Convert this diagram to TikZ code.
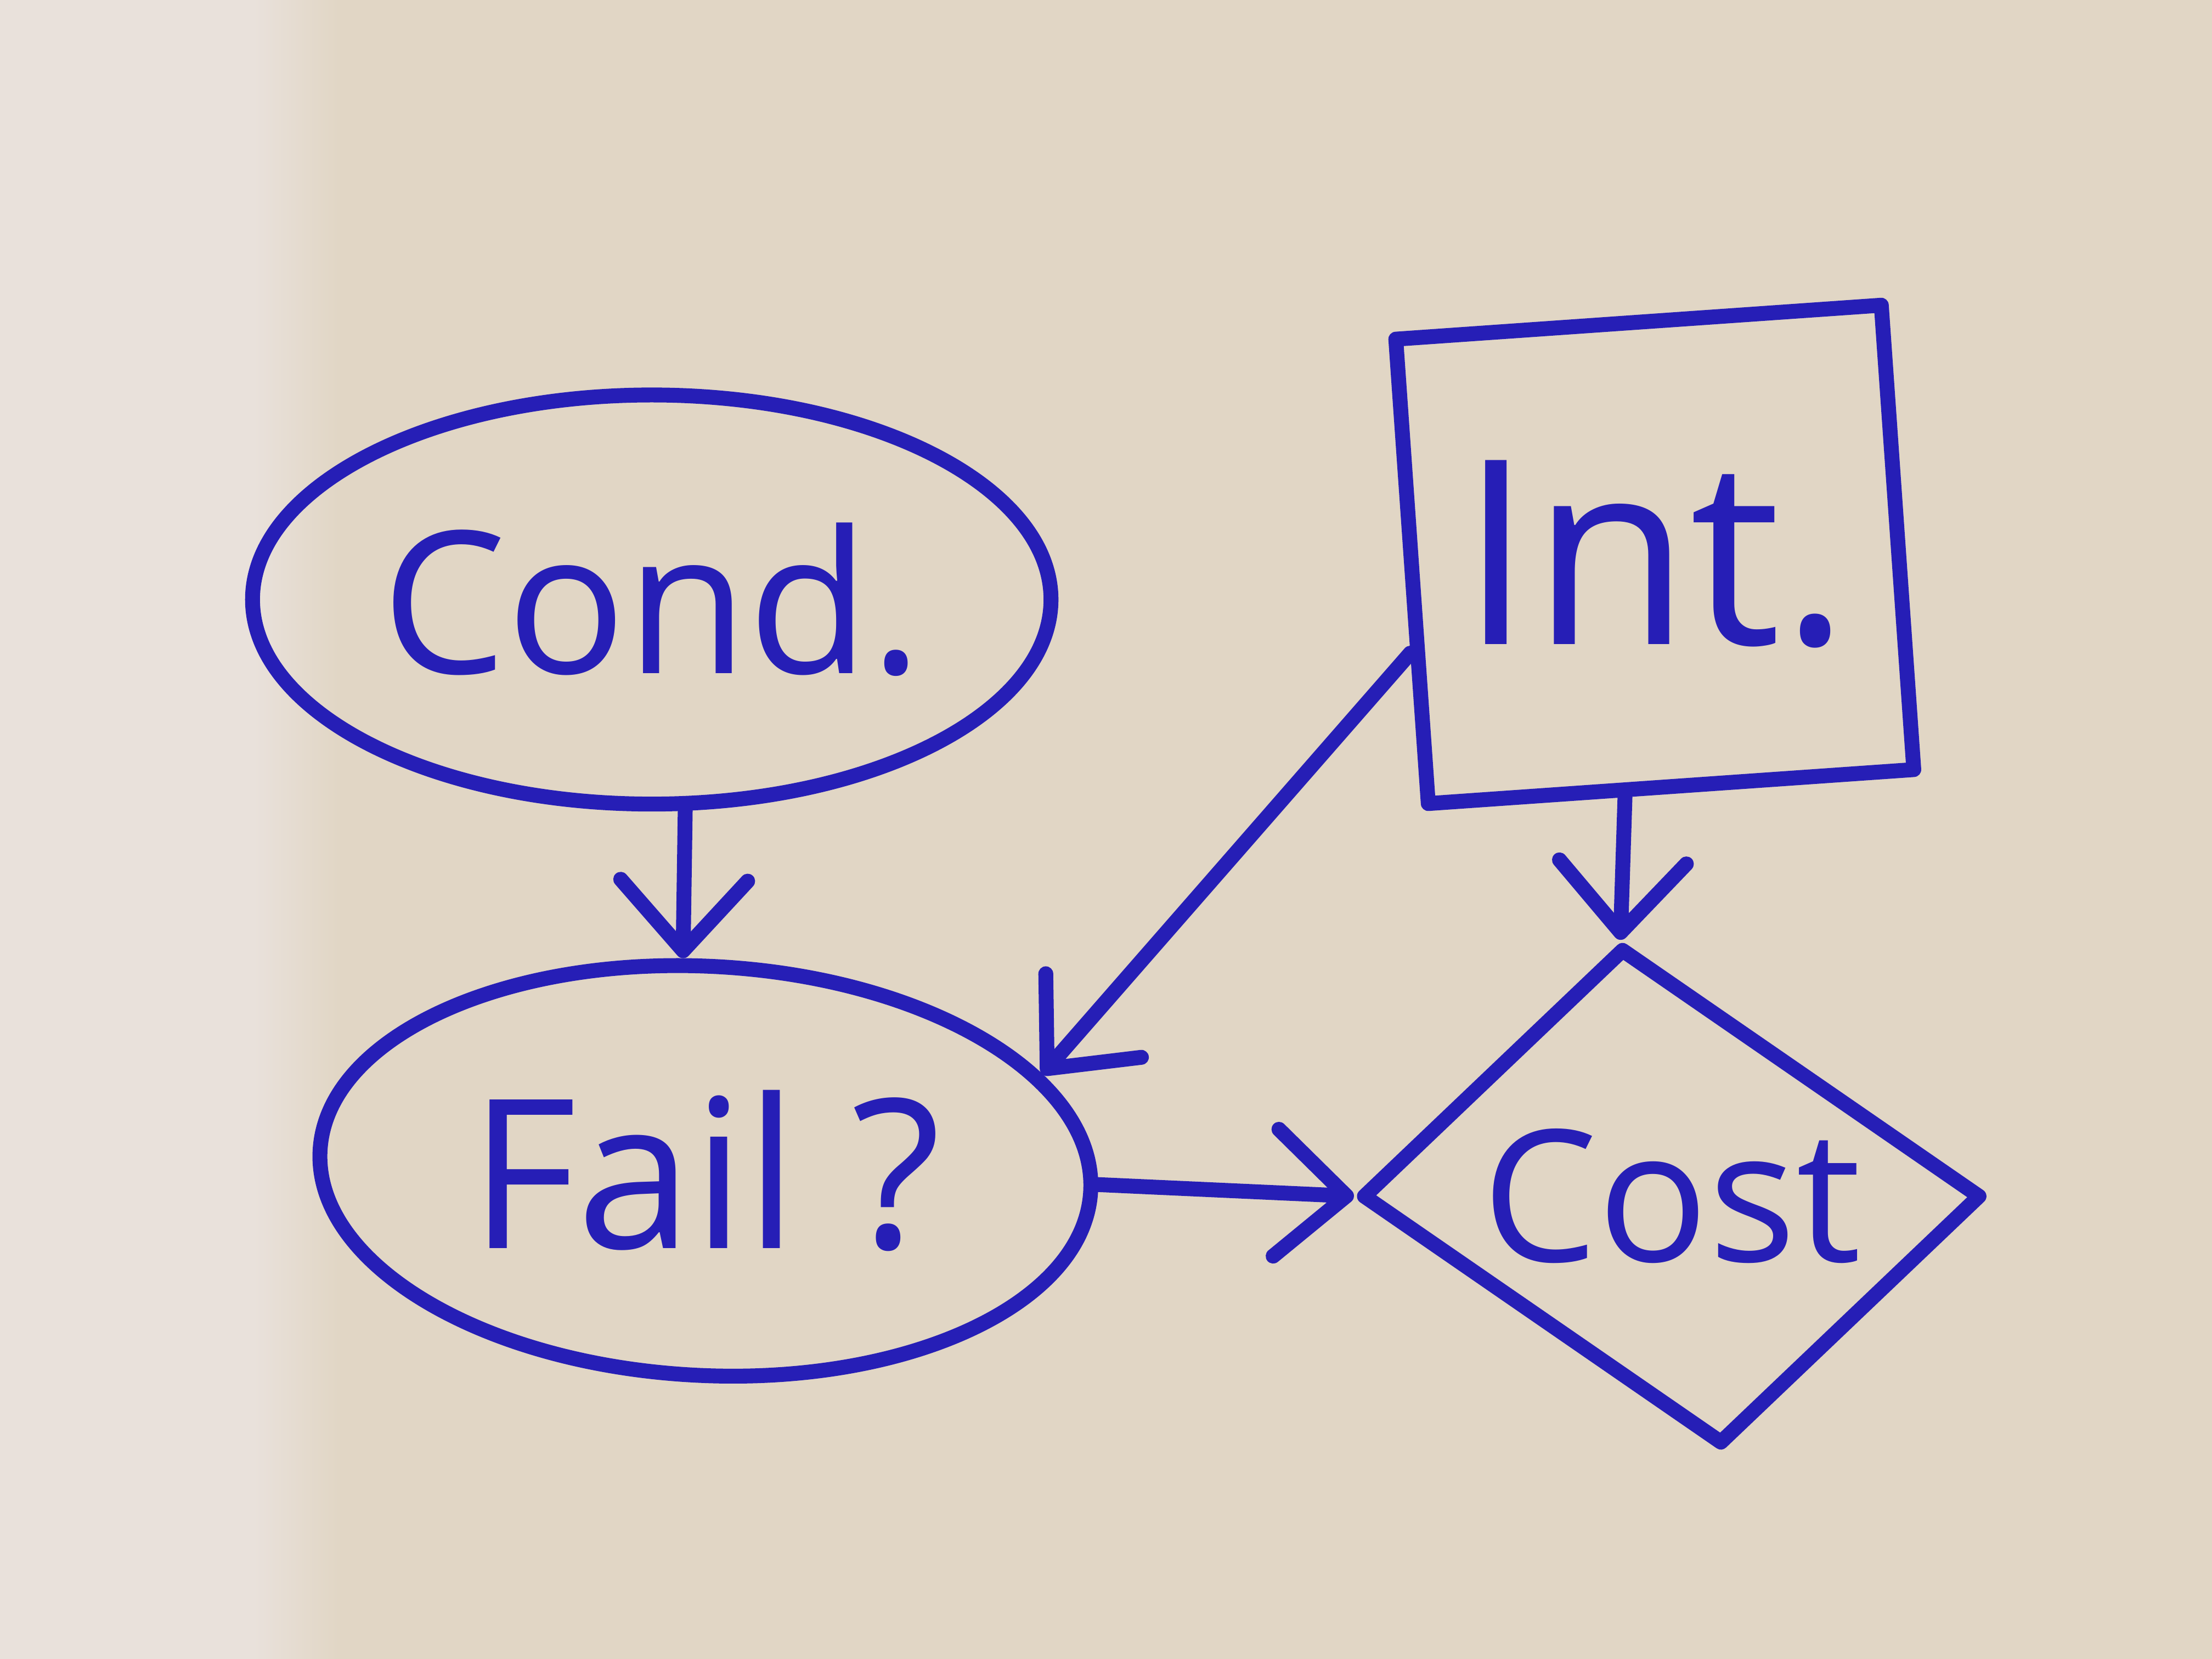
\documentclass[tikz,border=0pt]{standalone}
\usepackage{fontspec}
\setmainfont{Open Sans}
\usetikzlibrary{shapes.geometric,arrows.meta}
\definecolor{ink}{RGB}{38,30,182}
\definecolor{paper}{RGB}{225,214,197}
\definecolor{paperL}{RGB}{233,225,219}
\tikzset{
  inkline/.style={draw=ink, line width=3pt, line cap=round, line join=round},
  ellnode/.style={inkline, ellipse, inner sep=0pt},
  lbl/.style={text=ink},
  conn/.style={inkline, -{Straight Barb[round, length=5mm, width=9mm, line width=3pt]}}
}
\begin{document}
\begin{tikzpicture}
% paper
\fill[paper] (0,0) rectangle (15.68,11.76);
\fill[paperL] (0,0) rectangle (1.8,11.76);
\shade[left color=paperL, right color=paper] (1.8,0) rectangle (2.4,11.76);
\useasboundingbox (0,0) rectangle (15.68,11.76);

% nodes
\node[ellnode, minimum width=5.66cm, minimum height=2.9cm,
      font=\fontsize{40}{42}\selectfont, text=ink] (cond) at (4.62,7.51) {Cond.};
\node[ellnode, minimum width=5.47cm, minimum height=2.9cm, rotate=-3,
      label={[lbl, font=\fontsize{42}{44}\selectfont]center:Fail ?}] (fail) at (5.0,3.46) {};
\node[inkline, rectangle, minimum width=3.45cm, minimum height=3.3cm, rotate=4,
      inner sep=0pt,
      label={[lbl, font=\fontsize{52}{54}\selectfont]center:Int.}] (int) at (11.73,7.83) {};
\node[inkline, diamond, minimum width=4.4cm, minimum height=3.53cm, xslant=-0.2,
      inner sep=0pt,
      label={[lbl, font=\fontsize{37}{39}\selectfont]center:Cost}] (cost) at (11.85,3.28) {};

% connectors
\draw[conn] (cond.279) -- (fail.99);
\draw[conn] (int.198) -- (fail.19);
\draw[conn] (int.259) -- (cost.north);
\draw[conn] (fail.1) -- (cost.west);
\end{tikzpicture}
\end{document}
